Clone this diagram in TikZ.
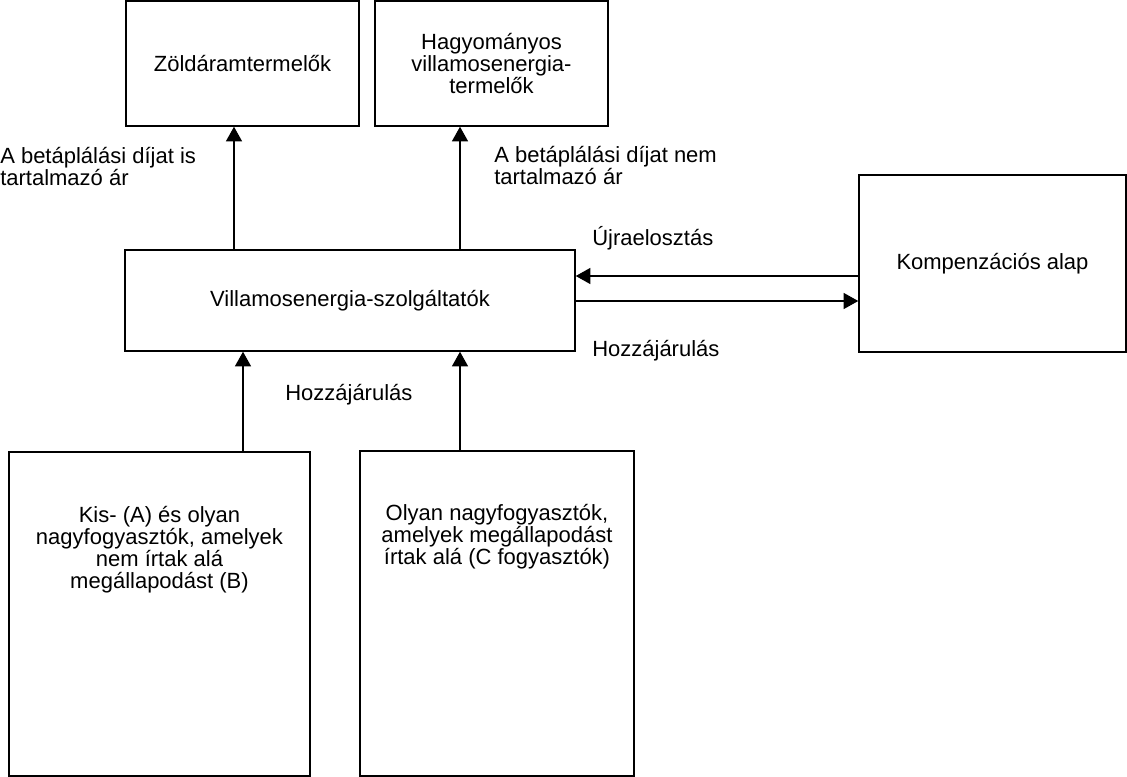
\documentclass[tikz,border=0pt]{standalone}
\usepackage{fontspec}
\setmainfont{Liberation Sans}
\usetikzlibrary{arrows.meta}

\begin{document}
\begin{tikzpicture}[x=0.75pt,y=-0.75pt,
  font=\fontsize{16.5}{16.5}\selectfont,
  box/.style={draw,line width=1.1pt,align=center,inner sep=0},
  txt/.style={align=left,inner sep=0,anchor=west},
  arr/.style={line width=1.1pt,-{Triangle[length=11pt,width=12pt]}}]
\useasboundingbox (0,0) rectangle (1127,777);
% boxes
\node[box,minimum width=174.75pt,minimum height=93.75pt] (zold) at (242.5,63.5) {Zöldáramtermelők};
\node[box,minimum width=174.75pt,minimum height=93.75pt] (hagy) at (491.5,63.5) {Hagyományos\\villamosenergia-\\termelők};
\node[box,minimum width=337.5pt,minimum height=75.75pt] (szolg) at (350,300.5) {Villamosenergia-szolgáltatók};
\node[box,minimum width=200.25pt,minimum height=132.75pt] (alap) at (992.5,263.5) {Kompenzációs alap};
\node[box,minimum width=225.75pt,minimum height=243pt] (kis) at (159.5,614) {};
\node[box,minimum width=205.5pt,minimum height=243.75pt] (nagy) at (497,613.5) {};
\node[align=center,inner sep=0] (kistxt) at (159.5,550) {Kis- (A) és olyan\\nagyfogyasztók, amelyek\\nem írtak alá\\megállapodást (B)};
\node[align=center,inner sep=0] (nagytxt) at (497,537) {Olyan nagyfogyasztók,\\amelyek megállapodást\\írtak alá (C fogyasztók)};
% labels
\node[txt] (arIs) at (0,167) {A betáplálási díjat is\\tartalmazó ár};
\node[txt] (arNem) at (494,166) {A betáplálási díjat nem\\tartalmazó ár};
\node[txt] (ujra) at (592,238) {Újraelosztás};
\node[txt] (hozzaR) at (592,351) {Hozzájárulás};
\node[txt] (hozzaL) at (285,395) {Hozzájárulás};
% arrows
\draw[arr] (szolg.north -| 234,0) -- (zold.south -| 234,0);
\draw[arr] (szolg.north -| 460,0) -- (hagy.south -| 460,0);
\draw[arr] (alap.west |- 0,276) -- (szolg.east |- 0,276);
\draw[arr] (szolg.east |- 0,301) -- (alap.west |- 0,301);
\draw[arr] (kis.north -| 243,0) -- (szolg.south -| 243,0);
\draw[arr] (nagy.north -| 460,0) -- (szolg.south -| 460,0);
\end{tikzpicture}
\end{document}
